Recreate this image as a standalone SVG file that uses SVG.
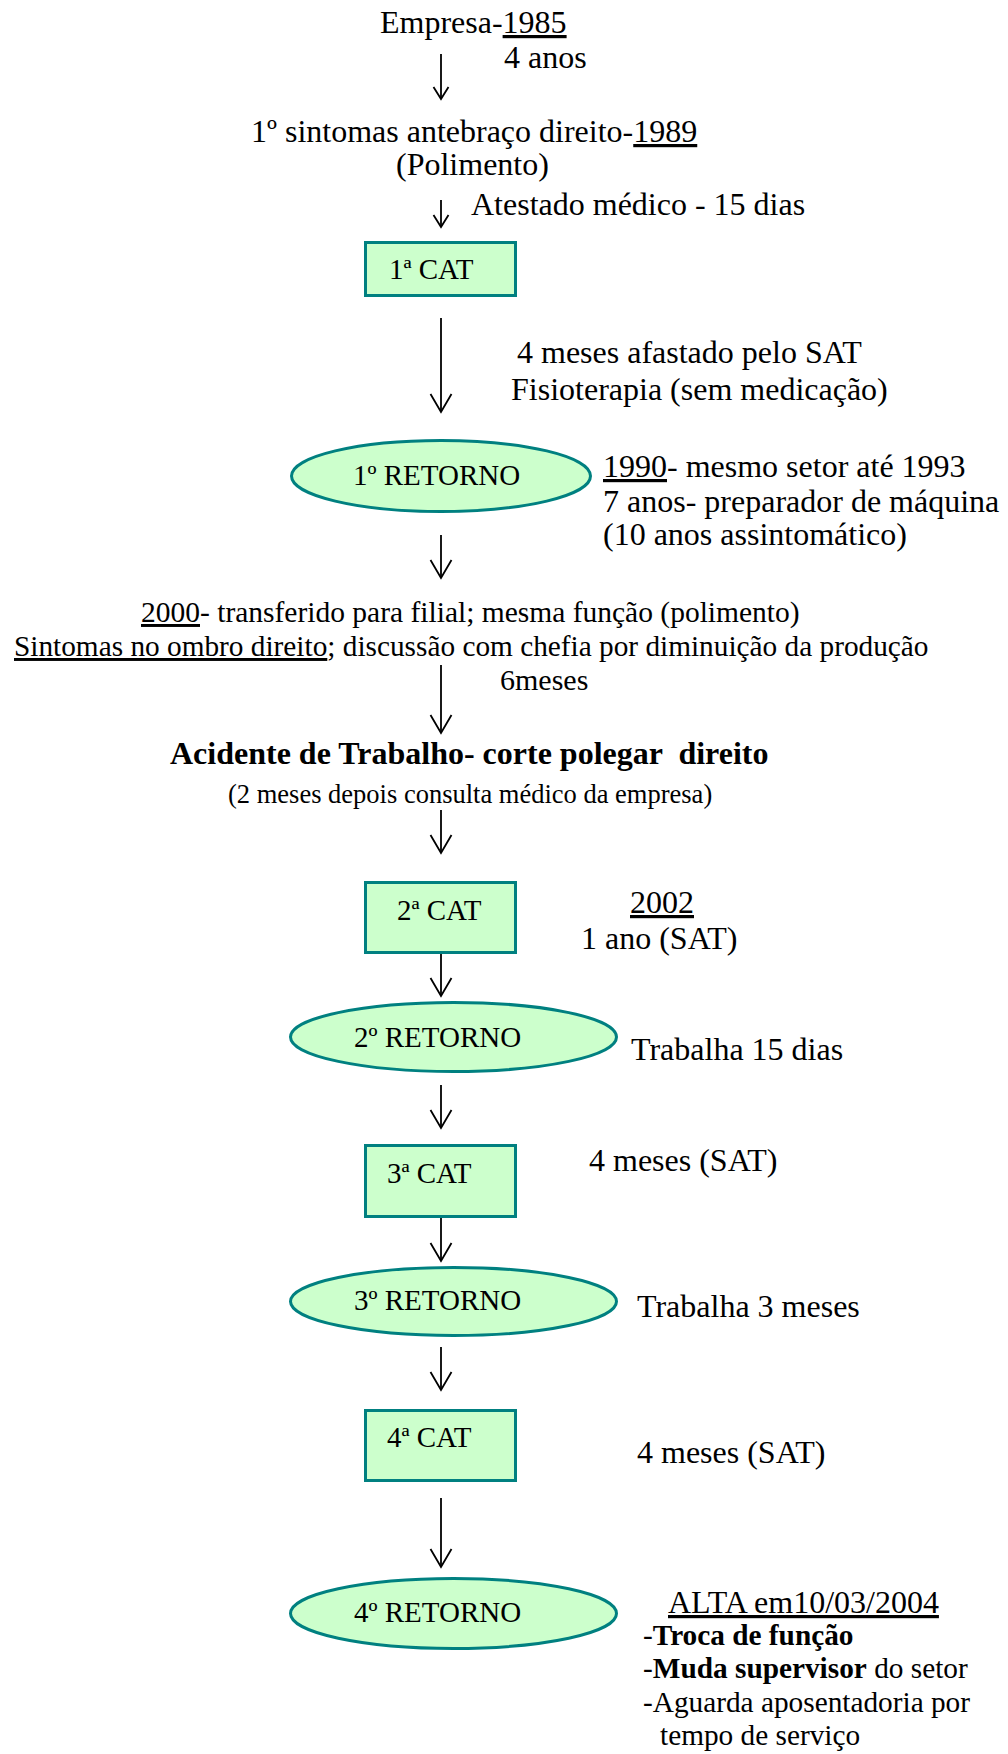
<svg xmlns="http://www.w3.org/2000/svg" width="1008" height="1754" viewBox="0 0 1008 1754">
  <style>
    text { font-family: "Liberation Serif", "Times New Roman", serif; fill: #000; }
    .lbl { font-size: 32px; }
    .node-text { font-size: 29px; }
    .u { text-decoration: underline; }
    .b { font-weight: bold; }
    .box { fill: #CCFFCC; stroke: #008080; stroke-width: 3; }
    .conn { stroke: #000; stroke-width: 1.8; fill: none; }
  </style>
  <defs>
    <marker id="head-lg" markerUnits="userSpaceOnUse" orient="auto" refX="0" refY="0" markerWidth="40" markerHeight="40" viewBox="-20 -20 40 40" overflow="visible">
      <path d="M-18,-10.5 L0,0 L-18,10.5" fill="none" stroke="#000" stroke-width="1.8"/>
    </marker>
    <marker id="head-sm" markerUnits="userSpaceOnUse" orient="auto" refX="0" refY="0" markerWidth="30" markerHeight="30" viewBox="-15 -15 30 30" overflow="visible">
      <path d="M-12,-7.5 L0,0 L-12,7.5" fill="none" stroke="#000" stroke-width="1.8"/>
    </marker>
  </defs>

  <rect width="1008" height="1754" fill="#fff"/>

  <!-- connectors -->
  <g id="connectors">
    <line class="conn" x1="441" y1="54" x2="441" y2="99" marker-end="url(#head-sm)"/>
    <line class="conn" x1="441" y1="200" x2="441" y2="227" marker-end="url(#head-sm)"/>
    <line class="conn" x1="441" y1="318" x2="441" y2="412" marker-end="url(#head-lg)"/>
    <line class="conn" x1="441" y1="535" x2="441" y2="578" marker-end="url(#head-lg)"/>
    <line class="conn" x1="441" y1="665" x2="441" y2="733" marker-end="url(#head-lg)"/>
    <line class="conn" x1="441" y1="810" x2="441" y2="853" marker-end="url(#head-lg)"/>
    <line class="conn" x1="441" y1="954" x2="441" y2="996" marker-end="url(#head-lg)"/>
    <line class="conn" x1="441" y1="1085" x2="441" y2="1128" marker-end="url(#head-lg)"/>
    <line class="conn" x1="441" y1="1218" x2="441" y2="1261" marker-end="url(#head-lg)"/>
    <line class="conn" x1="441" y1="1347" x2="441" y2="1390" marker-end="url(#head-lg)"/>
    <line class="conn" x1="441" y1="1498" x2="441" y2="1567" marker-end="url(#head-lg)"/>
  </g>

  <!-- timeline text -->
  <g id="empresa">
    <text class="lbl" x="380" y="33">Empresa-<tspan class="u">1985</tspan></text>
    <text class="lbl" x="504" y="68">4 anos</text>
  </g>
  <g id="sintomas-1989">
    <text class="lbl" x="251" y="142">1º sintomas antebraço direito-<tspan class="u">1989</tspan></text>
    <text class="lbl" x="396" y="175">(Polimento)</text>
    <text class="lbl" x="471" y="215">Atestado médico - 15 dias</text>
  </g>

  <g id="cat1">
    <rect class="box" x="365.5" y="242.5" width="150" height="53"/>
    <text class="node-text" x="389" y="279">1ª CAT</text>
  </g>
  <g id="cat1-note">
    <text class="lbl" x="517" y="363">4 meses afastado pelo SAT</text>
    <text class="lbl" x="511" y="400">Fisioterapia (sem medicação)</text>
  </g>

  <g id="retorno1">
    <ellipse class="box" cx="441" cy="476" rx="149.5" ry="35.5"/>
    <text class="node-text" x="353" y="485">1º RETORNO</text>
  </g>
  <g id="retorno1-note">
    <text class="lbl" x="603" y="477"><tspan class="u">1990</tspan>- mesmo setor até 1993</text>
    <text class="lbl" x="603" y="512">7 anos- preparador de máquina</text>
    <text class="lbl" x="603" y="545">(10 anos assintomático)</text>
  </g>

  <g id="transferencia-2000">
    <text x="141" y="622" style="font-size:29.5px"><tspan class="u">2000</tspan>- transferido para filial; mesma função (polimento)</text>
    <text x="14" y="656" style="font-size:29.3px"><tspan class="u">Sintomas no ombro direito</tspan>; discussão com chefia por diminuição da produção</text>
    <text x="500" y="690" style="font-size:30px">6meses</text>
  </g>

  <g id="acidente">
    <text class="lbl b" x="170" y="764" xml:space="preserve">Acidente de Trabalho- corte polegar  direito</text>
    <text x="228" y="803" style="font-size:26.5px">(2 meses depois consulta médico da empresa)</text>
  </g>

  <g id="cat2">
    <rect class="box" x="365.5" y="882.5" width="150" height="70"/>
    <text class="node-text" x="397" y="920">2ª CAT</text>
  </g>
  <g id="cat2-note">
    <text class="lbl u" x="630" y="913">2002</text>
    <text class="lbl" x="581" y="949">1 ano (SAT)</text>
  </g>

  <g id="retorno2">
    <ellipse class="box" cx="453.5" cy="1037" rx="163" ry="34.5"/>
    <text class="node-text" x="354" y="1047">2º RETORNO</text>
  </g>
  <text class="lbl" x="631" y="1060">Trabalha 15 dias</text>

  <g id="cat3">
    <rect class="box" x="365.5" y="1145.5" width="150" height="71"/>
    <text class="node-text" x="387" y="1183">3ª CAT</text>
  </g>
  <text class="lbl" x="589" y="1171">4 meses (SAT)</text>

  <g id="retorno3">
    <ellipse class="box" cx="453.5" cy="1301.5" rx="163" ry="34"/>
    <text class="node-text" x="354" y="1310">3º RETORNO</text>
  </g>
  <text class="lbl" x="637" y="1317">Trabalha 3 meses</text>

  <g id="cat4">
    <rect class="box" x="365.5" y="1410.5" width="150" height="70"/>
    <text class="node-text" x="387" y="1447">4ª CAT</text>
  </g>
  <text class="lbl" x="637" y="1463">4 meses (SAT)</text>

  <g id="retorno4">
    <ellipse class="box" cx="453.5" cy="1613.5" rx="163" ry="35"/>
    <text class="node-text" x="354" y="1622">4º RETORNO</text>
  </g>
  <g id="alta">
    <text class="lbl u" x="668" y="1613">ALTA em10/03/2004</text>
    <text x="643" y="1645" style="font-size:29.3px">-<tspan class="b">Troca de função</tspan></text>
    <text x="643" y="1678" style="font-size:29.3px">-<tspan class="b">Muda supervisor</tspan> do setor</text>
    <text x="643" y="1712" style="font-size:29.3px">-Aguarda aposentadoria por</text>
    <text x="660" y="1745" style="font-size:29.3px">tempo de serviço</text>
  </g>
</svg>
